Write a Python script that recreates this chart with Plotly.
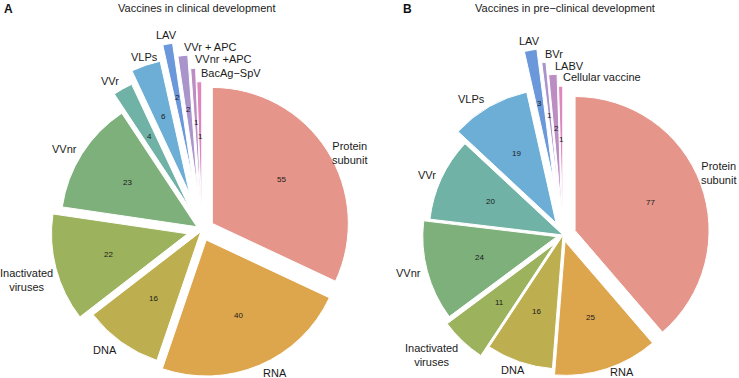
import math
import plotly.graph_objects as go

# ---- data ----
categories_A = ["Protein subunit", "RNA", "DNA", "Inactivated viruses", "VVnr", "VVr",
                "VLPs", "LAV", "VVr + APC", "VVnr +APC", "BacAg\u2212SpV"]
values_A = [55, 40, 16, 22, 23, 4, 6, 2, 2, 1, 1]

categories_B = ["Protein subunit", "RNA", "DNA", "Inactivated viruses", "VVnr", "VVr",
                "VLPs", "LAV", "BVr", "LABV", "Cellular vaccine"]
values_B = [77, 25, 16, 11, 24, 20, 19, 3, 1, 2, 1]

title_A = "Vaccines in clinical development"
title_B = "Vaccines in pre\u2212clinical development"

# ---- layout / style (pixels of the 739x378 canvas) ----
W, H = 739, 378
colors = ["#E5958A", "#DDA64C", "#BDAE50", "#9CB25C", "#7DB07A", "#70B3A6",
          "#6DAED6", "#6A98DA", "#A994CC", "#BC8DC2", "#DE86BE"]
# explode distance of each slice, as a fraction of the radius
pull_A = [0.09, 0.08, 0.015, 0.11, 0.045, 0.19, 0.28, 0.39, 0.29, 0.19, 0.09]
pull_B = [0.096, 0.05, 0.0, 0.09, 0.048, 0.0, 0.104, 0.40, 0.295, 0.20, 0.11]
center_A, radius_A = (202, 230), 136
center_B, radius_B = (563, 235), 134
VALUE_RADIUS = 0.6          # value labels sit at 60% of the radius from each slice tip
label_nudge = {
    ("A", "Inactivated viruses"): (3, 3),
    ("B", "Protein subunit"): (-5, -15),
    ("B", "RNA"): (0, -5),
    ("B", "DNA"): (-5, 0),
}
TWO_LINE = {"Protein subunit", "Inactivated viruses"}

FONT = "Liberation Sans, Arial, Helvetica, sans-serif"
TXT = "#1a1a1a"


def px_x(x):
    return x / W


def px_y(y):
    return 1 - y / H


def clamp(v):
    return min(1.0, max(0.0, v))


fig = go.Figure()
annotations = []

panels = [
    ("A", categories_A, values_A, pull_A, center_A, radius_A),
    ("B", categories_B, values_B, pull_B, center_B, radius_B),
]

for key, cats, vals, pulls, (cx, cy), r in panels:
    total = float(sum(vals))
    cum = 0.0
    for i, (cat, val, p) in enumerate(zip(cats, vals, pulls)):
        mid = (cum + val / 2.0) / total * 2 * math.pi   # clockwise from 12 o'clock
        cum += val
        ux, uy = math.sin(mid), -math.cos(mid)          # screen direction (y down)

        # exploded slice: same pie, its own centre shifted along the slice's mid-angle
        tx, ty = cx + p * r * ux, cy + p * r * uy
        dom = dict(x=[clamp(px_x(tx - r)), clamp(px_x(tx + r))],
                   y=[clamp(px_y(ty + r)), clamp(px_y(ty - r))])
        fig.add_trace(go.Pie(
            labels=cats, values=vals, sort=False, direction="clockwise", rotation=0,
            domain=dom,
            marker=dict(colors=[colors[j] if j == i else "rgba(0,0,0,0)" for j in range(len(cats))],
                        line=dict(color="white",
                                  width=[1 if j == i else 0 for j in range(len(cats))])),
            textinfo="none", hoverinfo="label+value", showlegend=False,
            name=f"{key}: {cat}",
        ))

        # value inside the slice
        vx, vy = tx + VALUE_RADIUS * r * ux, ty + VALUE_RADIUS * r * uy
        annotations.append(dict(
            text=str(val), x=px_x(vx), y=px_y(vy), xref="paper", yref="paper",
            xanchor="center", yanchor="middle", showarrow=False,
            font=dict(family=FONT, size=8, color=TXT)))

        # category label just outside the slice
        ox, oy = tx + r * ux, ty + r * uy
        lx = ox + 4 * ux
        ly = oy + 9 * uy + (7 if cat in TWO_LINE else 0)
        dx, dy = label_nudge.get((key, cat), (0, 0))
        lx += dx
        ly += dy
        if ux > -0.15:
            xa = "left"
        elif ux > -0.4:
            xa = "center"
        else:
            xa = "right"
        text = cat.replace(" ", "<br>", 1) if cat in TWO_LINE else cat
        annotations.append(dict(
            text=text, x=px_x(lx), y=px_y(ly), xref="paper", yref="paper",
            xanchor=xa, yanchor="middle", align="center", showarrow=False,
            font=dict(family=FONT, size=11, color=TXT)))

# panel titles and letters
annotations += [
    dict(text=title_A, x=px_x(197), y=px_y(8), xref="paper", yref="paper",
         xanchor="center", yanchor="middle", showarrow=False,
         font=dict(family=FONT, size=11, color=TXT)),
    dict(text=title_B, x=px_x(565), y=px_y(8), xref="paper", yref="paper",
         xanchor="center", yanchor="middle", showarrow=False,
         font=dict(family=FONT, size=11, color=TXT)),
    dict(text="<b>A</b>", x=px_x(2), y=px_y(9), xref="paper", yref="paper",
         xanchor="left", yanchor="middle", showarrow=False,
         font=dict(family=FONT, size=12, color="#111111")),
    dict(text="<b>B</b>", x=px_x(401), y=px_y(9), xref="paper", yref="paper",
         xanchor="left", yanchor="middle", showarrow=False,
         font=dict(family=FONT, size=12, color="#111111")),
]

fig.update_layout(
    width=W, height=H,
    margin=dict(l=0, r=0, t=0, b=0, autoexpand=False),
    paper_bgcolor="white", plot_bgcolor="white",
    annotations=annotations,
)

# remove the browser's default 8px body margin so the 739x378 figure fills the window
fig.write_html(
    "out.html",
    config={"displayModeBar": False},
    post_script="document.body.style.margin='0';document.body.style.overflow='hidden';",
)
